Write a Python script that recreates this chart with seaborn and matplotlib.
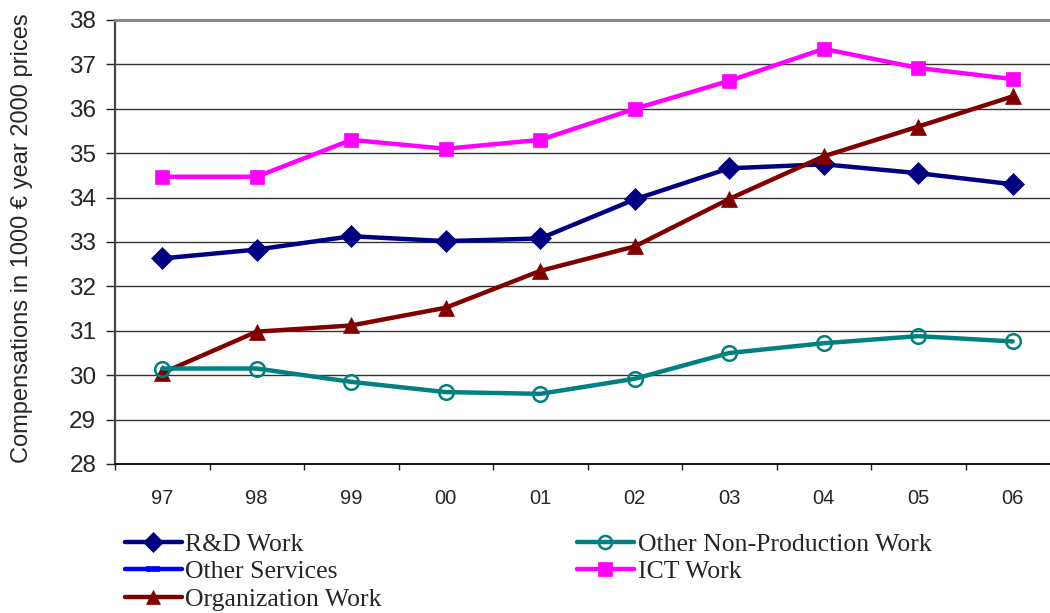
import matplotlib
matplotlib.use("Agg")
import matplotlib.pyplot as plt
from matplotlib.lines import Line2D
from matplotlib.ticker import FixedLocator
import seaborn as sns
import pandas as pd

years = ["97", "98", "99", "00", "01", "02", "03", "04", "05", "06"]
rd_work = [32.63, 32.83, 33.13, 33.02, 33.08, 33.96, 34.66, 34.75, 34.55, 34.30]
other_non_production = [30.15, 30.15, 29.85, 29.62, 29.58, 29.92, 30.50, 30.72, 30.88, 30.76]
ict_work = [34.47, 34.47, 35.30, 35.10, 35.30, 36.00, 36.63, 37.35, 36.92, 36.67]
organization_work = [30.05, 30.98, 31.12, 31.52, 32.35, 32.90, 33.97, 34.93, 35.60, 36.28]
y_ticks = [28, 29, 30, 31, 32, 33, 34, 35, 36, 37, 38]

sns.set_style("white")
plt.rcParams["font.family"] = ["Liberation Sans", "DejaVu Sans"]

fig = plt.figure(figsize=(10.5, 6.13), dpi=100)
ax = fig.add_axes([115 / 1050, 1 - 464 / 613, 945 / 1050, 444 / 613])

series = [
    ("R&D Work", rd_work, "#000080", "D", 11.5, "#000080"),
    ("ICT Work", ict_work, "#FF00FF", "s", 10.5, "#FF00FF"),
    ("Organization Work", organization_work, "#800000", "^", 11, "#800000"),
    ("Other Non-Production Work", other_non_production, "#008080", "o", 10.5, "none"),
]

x_pos = list(range(len(years)))
handles = {}
for name, vals, color, marker, ms, face in series:
    df = pd.DataFrame({"x": x_pos, "y": vals})
    sns.lineplot(data=df, x="x", y="y", ax=ax, color=color, linewidth=3.2,
                 marker=marker, markersize=ms, markerfacecolor=face,
                 markeredgecolor=color, markeredgewidth=1.8 if face == "none" else 0.5,
                 sort=False, legend=False, zorder=3)
    handles[name] = Line2D([], [], color=color, linewidth=3.2, marker=marker,
                           markersize=ms * 0.9, markerfacecolor=face,
                           markeredgecolor=color,
                           markeredgewidth=1.8 if face == "none" else 0.5)

handles["Other Services"] = Line2D([], [], color="#0000FF", linewidth=3.2,
                                   marker="_", markersize=10, markeredgewidth=4)

ax.set_xlim(-0.5, len(years) - 0.5)
ax.set_ylim(28, 38)
ax.set_xticks(x_pos)
ax.set_xticklabels(years, fontsize=14.5)
ax.xaxis.set_minor_locator(FixedLocator([i - 0.5 for i in range(len(years) + 1)]))
ax.tick_params(axis="x", which="major", length=0, pad=18)
ax.tick_params(axis="x", which="minor", length=4.5, width=1, color="#222222",
               direction="out", bottom=True)
ax.set_yticks(y_ticks)
ax.set_yticklabels([str(v) for v in y_ticks], fontsize=17.5)
ax.tick_params(axis="y", length=6.5, width=1, color="#222222", direction="out",
               left=True, pad=7)

ax.yaxis.grid(True, color="#333333", linewidth=1.0)
ax.xaxis.grid(False)
ax.set_axisbelow(True)

for side in ["left", "bottom", "top"]:
    ax.spines[side].set_visible(True)
ax.spines["right"].set_visible(False)
ax.spines["top"].set_color("#888888")
ax.spines["top"].set_linewidth(2.2)
ax.spines["left"].set_color("#444444")
ax.spines["left"].set_linewidth(1.6)
ax.spines["bottom"].set_color("#111111")
ax.spines["bottom"].set_linewidth(1.4)

ax.set_xlabel("")
ax.set_ylabel("Compensations in 1000 € year 2000 prices", fontsize=17)
ax.yaxis.set_label_coords((33 - 115) / 945, (464 - 238) / 444)

order = ["R&D Work", "Other Services", "Organization Work",
         "Other Non-Production Work", "ICT Work"]
fig.legend([handles[k] for k in order], order, ncol=2,
           loc="upper left", bbox_to_anchor=(125 / 1050, 1 - 533 / 613),
           frameon=False, prop={"family": "Liberation Serif", "size": 18.5},
           handlelength=2.2, handletextpad=0.15, labelspacing=0.17,
           columnspacing=7.6, borderaxespad=0, borderpad=0)

fig.savefig("out.png", dpi=100)
